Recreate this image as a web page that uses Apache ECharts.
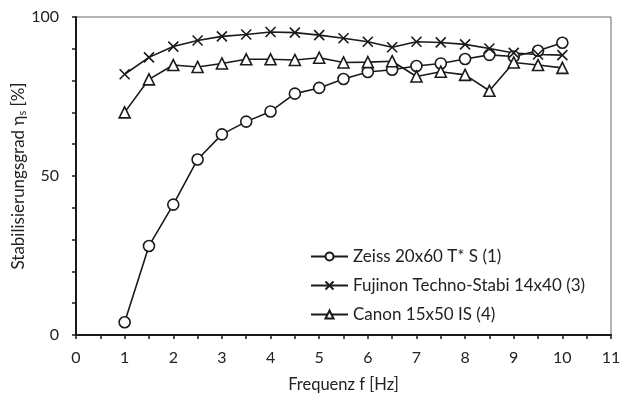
<!DOCTYPE html>
<html><head><meta charset="utf-8">
<script src="https://cdn.jsdelivr.net/npm/echarts@6/dist/echarts.min.js"></script>
<style>html,body{margin:0;padding:0;background:#fff}#c{width:620px;height:395px}</style>
</head><body><div id="c"></div>
<script>
const freq = [1,1.5,2,2.5,3,3.5,4,4.5,5,5.5,6,6.5,7,7.5,8,8.5,9,9.5,10];
const zeiss = [4,28,41,55.2,63.1,67.1,70.3,75.9,77.7,80.5,82.7,83.4,84.6,85.4,86.8,88.1,87.6,89.4,91.9];
const fujinon = [82,87.3,90.7,92.6,93.9,94.5,95.3,95.1,94.3,93.3,92.2,90.5,92.2,92,91.4,90.1,88.7,88.2,88];
const canon = [70,80.4,84.9,84.3,85.4,86.7,86.7,86.5,87.2,85.7,85.8,86.1,81.3,82.8,81.8,76.8,85.7,84.9,84];
const names = ['Zeiss 20x60 T* S (1)','Fujinon Techno-Stabi 14x40 (3)','Canon 15x50 IS (4)'];
const FONT = 'Lato';
const pair = a => freq.map((f,i)=>[f,a[i]]);
const xPath = 'path://M0,0L10,10M10,0L0,10';
const mk = (name, data, symbol, size, fill) => ({
  name, type:'line', data: pair(data), symbol, symbolSize: size,
  lineStyle:{color:'#1a1a1a', width:1.6},
  itemStyle:{color: fill, borderColor:'#1a1a1a', borderWidth:1.6},
  emphasis:{disabled:true}, z: 3
});
const chart = echarts.init(document.getElementById('c'));
chart.setOption({
  animation:false,
  grid:{left:76,right:9,top:17,bottom:60,show:true,borderColor:'#666',borderWidth:1,
    backgroundColor:'transparent',outerBoundsMode:'none',containLabel:false},
  legend:{
    orient:'vertical', left:305, top:243, itemGap:12, itemWidth:37, itemHeight:10,
    textStyle:{fontFamily:FONT,fontSize:17,color:'#222'},
    data:names
  },
  xAxis:{
    type:'value', min:0, max:11, interval:0.5,
    axisLine:{lineStyle:{color:'#1a1a1a',width:2}},
    axisTick:{length:4,lineStyle:{color:'#1a1a1a',width:1.5}},
    axisLabel:{fontFamily:FONT,fontSize:16,color:'#222',margin:15,
      formatter:v=>Number.isInteger(v)?String(v):''},
    splitLine:{show:false},
    name:'Frequenz f [Hz]', nameLocation:'middle', nameGap:41, nameMoveOverlap:false,
    nameTextStyle:{fontFamily:FONT,fontSize:16.5,color:'#222'}
  },
  yAxis:{
    type:'value', min:0, max:100, interval:10,
    axisLine:{show:true,lineStyle:{color:'#1a1a1a',width:2}},
    axisTick:{show:true,length:4,lineStyle:{color:'#1a1a1a',width:1.5}},
    axisLabel:{fontFamily:FONT,fontSize:16,color:'#222',margin:17,
      formatter:v=>v%50===0?String(v):''},
    splitLine:{show:false},
    name:'Stabilisierungsgrad η{sub|s} [%]', nameLocation:'middle', nameGap:48, nameMoveOverlap:false,
    nameTextStyle:{fontFamily:FONT,fontSize:17,color:'#222',
      rich:{sub:{fontFamily:FONT,fontSize:11,color:'#222',verticalAlign:'bottom',padding:[8,0,0,0]}}}
  },
  series:[
    mk(names[0], zeiss, 'circle', 11, '#fff'),
    mk(names[1], fujinon, xPath, 10, '#fff'),
    mk(names[2], canon, 'triangle', 11, '#fff')
  ]
});
</script></body></html>
